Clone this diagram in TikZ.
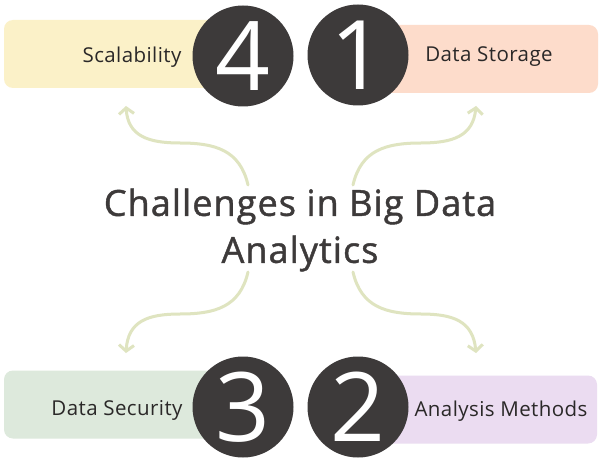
\documentclass[tikz,border=0pt]{standalone}
\usepackage{fontspec}
\setmainfont{Open Sans}
\usetikzlibrary{arrows.meta}
\definecolor{yelbox}{HTML}{FBF1C8}
\definecolor{peachbox}{HTML}{FDDCCB}
\definecolor{greenbox}{HTML}{DDE9DC}
\definecolor{lilacbox}{HTML}{EBDCF1}
\definecolor{disc}{HTML}{3D3A3A}
\definecolor{wave}{HTML}{DFE4C0}
\definecolor{ink}{HTML}{2A2828}
\begin{document}
\begin{tikzpicture}[x=1pt,y=-1pt,
  box/.style={rounded corners=9pt, minimum height=68pt, inner sep=0pt},
  disk/.style={circle, fill=disc, minimum size=101pt, inner sep=0pt},
  digit/.style={text=white, font=\fontsize{96}{96}\selectfont, inner sep=0pt},
  lbl/.style={text=ink, font=\fontsize{20.5}{22}\selectfont\addfontfeatures{LetterSpace=2}, inner sep=0pt},
  title/.style={text=disc, font=\fontsize{36}{47}\selectfont\addfontfeatures{LetterSpace=3,FakeBold=1.2}, align=center, inner sep=0pt},
  wavy/.style={draw=wave, line width=3pt, line cap=round, -{Straight Barb[length=6pt,width=15pt,line width=3pt]}}]
\useasboundingbox (0,0) rectangle (600,468);
\fill[white] (0,0) rectangle (600,468);
% boxes
\node[box, fill=yelbox, minimum width=236pt] (b4) at (122,54) {};
\node[box, fill=peachbox, minimum width=238pt] (b1) at (479,59) {};
\node[box, fill=greenbox, minimum width=236pt] (b3) at (122,404.5) {};
\node[box, fill=lilacbox, minimum width=237pt] (b2) at (478.5,409.5) {};
% labels
\node[lbl] (l4) at (132,57) {Scalability};
\node[lbl] (l1) at (489,57) {Data Storage};
\node[lbl] (l3) at (117,410) {Data Security};
\node[lbl] (l2) at (501,411) {Analysis Methods};
% disks
\node[disk] (c4) at (243,56) {};
\node[disk] (c1) at (358,55) {};
\node[disk] (c3) at (243,407) {};
\node[disk] (c2) at (358,407) {};
\node[digit] (d4) at (c4) {4};
\node[digit] (d1) at (c1) {1};
\node[digit] (d3) at (c3) {3};
\node[digit] (d2) at (c2) {2};
% title
\node[title] (t) at (300,230) {Challenges in Big Data\\Analytics};
% arrows
\coordinate (s4) at (248,185); \coordinate (e4) at (126,106);
\coordinate (s1) at (353,185); \coordinate (e1) at (476,106);
\coordinate (s3) at (248,272); \coordinate (e3) at (126,353);
\coordinate (s2) at (353,272); \coordinate (e2) at (476,353);
\draw[wavy] (s4) .. controls (240,150) and (215,143) .. (180,143) .. controls (148,143) and (128,136) .. (e4);
\draw[wavy] (s1) .. controls (361,150) and (386,143) .. (421,143) .. controls (453,143) and (473,136) .. (e1);
\draw[wavy] (s3) .. controls (240,307) and (215,314) .. (180,314) .. controls (148,314) and (128,321) .. (e3);
\draw[wavy] (s2) .. controls (361,307) and (386,314) .. (421,314) .. controls (453,314) and (473,321) .. (e2);
\end{tikzpicture}
\end{document}
